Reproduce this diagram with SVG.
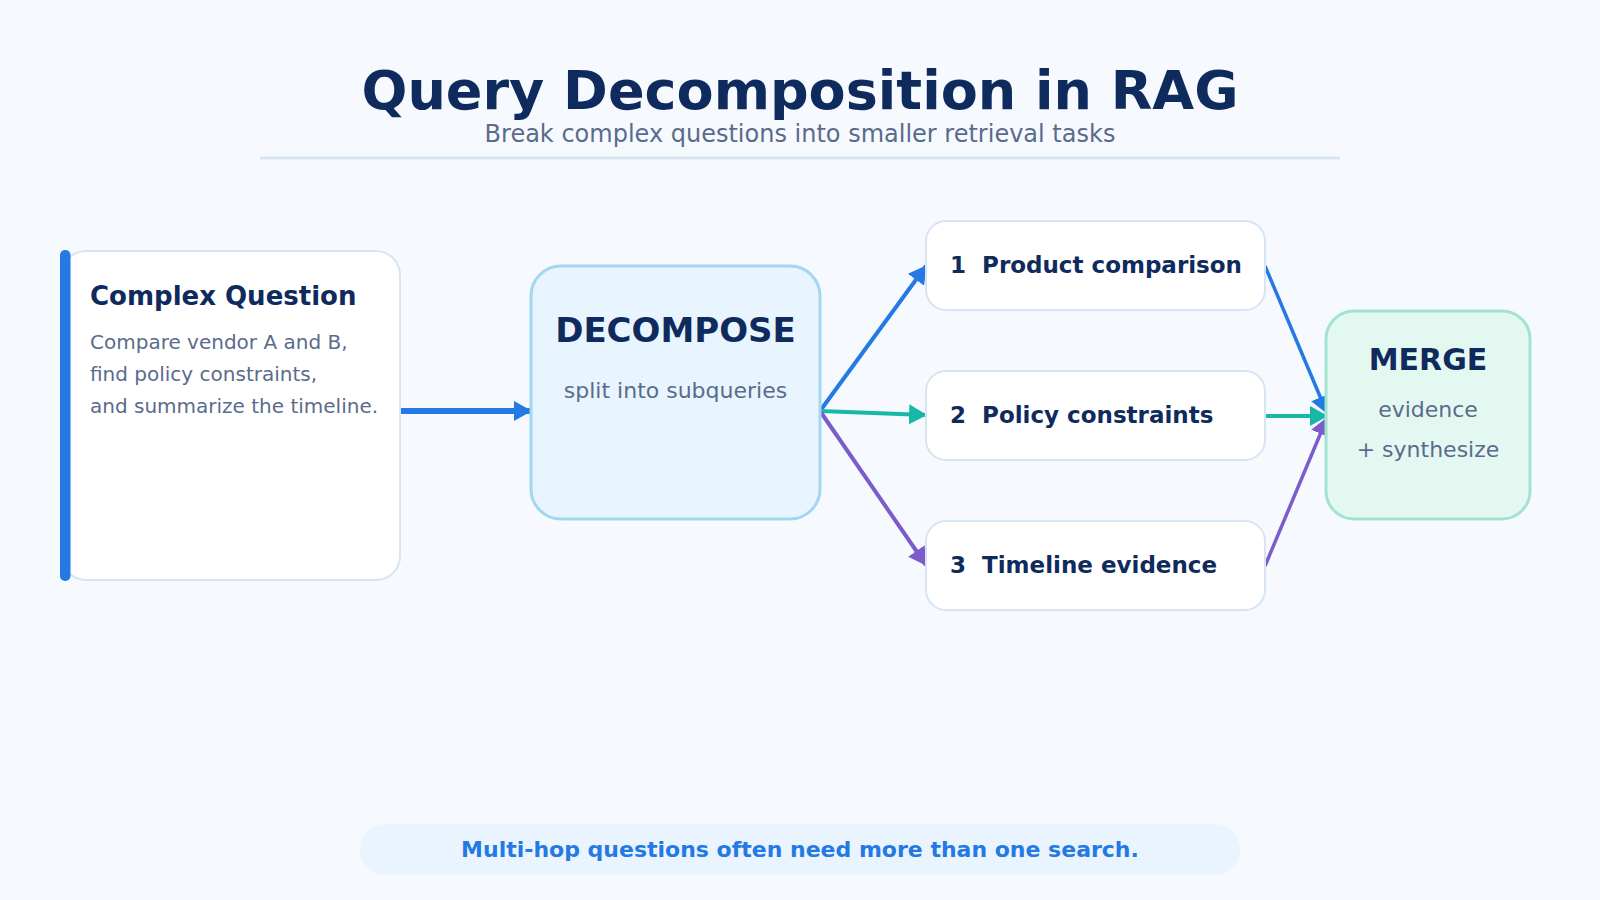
<svg xmlns="http://www.w3.org/2000/svg" width="1600" height="900" viewBox="0 0 1600 900">
  <defs>
    <style>
      text { font-family: "DejaVu Sans", "Liberation Sans", sans-serif; }
      .title { font-size: 54px; font-weight: bold; fill: #0F2A5C; }
      .subtitle { font-size: 24px; fill: #5A6B8C; }
      .h { font-weight: bold; fill: #0F2A5C; }
      .body { fill: #5A6B8C; }
      .sq { fill: #FFFFFF; stroke: #D6E4F3; stroke-width: 2; }
      .sqt { font-size: 23px; font-weight: bold; fill: #0F2A5C; }
      .conn { fill: none; }
    </style>
    <marker id="ah-blue" markerUnits="userSpaceOnUse" markerWidth="18" markerHeight="20" refX="17" refY="10" orient="auto">
      <path d="M0,0 L18,10 L0,20 z" fill="#2479E3"/>
    </marker>
    <marker id="ah-teal" markerUnits="userSpaceOnUse" markerWidth="18" markerHeight="20" refX="17" refY="10" orient="auto">
      <path d="M0,0 L18,10 L0,20 z" fill="#17B8A6"/>
    </marker>
    <marker id="ah-purple" markerUnits="userSpaceOnUse" markerWidth="18" markerHeight="20" refX="17" refY="10" orient="auto">
      <path d="M0,0 L18,10 L0,20 z" fill="#7C5CCB"/>
    </marker>
  </defs>

  <rect width="1600" height="900" fill="#F6FAFF"/>

  <g id="header">
    <text class="title" x="800" y="109" text-anchor="middle">Query Decomposition in RAG</text>
    <text class="subtitle" x="800" y="142" text-anchor="middle">Break complex questions into smaller retrieval tasks</text>
    <line x1="260" y1="158" x2="1340" y2="158" stroke="#D8E4F2" stroke-width="3"/>
  </g>

  <g id="connectors" class="conn">
    <line x1="400" y1="411" x2="531" y2="411" stroke="#2479E3" stroke-width="6" marker-end="url(#ah-blue)"/>
    <line x1="820" y1="411" x2="926" y2="266" stroke="#2479E3" stroke-width="4" marker-end="url(#ah-blue)"/>
    <line x1="820" y1="411" x2="926" y2="415" stroke="#17B8A6" stroke-width="4" marker-end="url(#ah-teal)"/>
    <line x1="820" y1="411" x2="926" y2="565" stroke="#7C5CCB" stroke-width="4" marker-end="url(#ah-purple)"/>
    <line x1="1265" y1="266" x2="1327" y2="413" stroke="#2479E3" stroke-width="3.5" marker-end="url(#ah-blue)"/>
    <line x1="1265" y1="416" x2="1327" y2="416" stroke="#17B8A6" stroke-width="4" marker-end="url(#ah-teal)"/>
    <line x1="1265" y1="566" x2="1327" y2="418" stroke="#7C5CCB" stroke-width="3.5" marker-end="url(#ah-purple)"/>
  </g>

  <g id="node-question">
    <rect x="62" y="251" width="338" height="329" rx="24" fill="#FFFFFF" stroke="#D6E4F3" stroke-width="2"/>
    <rect x="60" y="250" width="10.5" height="331" rx="5" fill="#2479E3"/>
    <text class="h" x="90" y="305" font-size="26">Complex Question</text>
    <text class="body" font-size="20">
      <tspan x="90" y="349">Compare vendor A and B,</tspan>
      <tspan x="90" y="381">find policy constraints,</tspan>
      <tspan x="90" y="413">and summarize the timeline.</tspan>
    </text>
  </g>

  <g id="node-decompose">
    <rect x="531" y="266" width="289" height="253" rx="30" fill="#E8F5FE" stroke="#A3D6F3" stroke-width="3"/>
    <text class="h" x="675.5" y="342" font-size="34" text-anchor="middle">DECOMPOSE</text>
    <text class="body" x="675.5" y="398" font-size="22" text-anchor="middle">split into subqueries</text>
  </g>

  <g id="node-sq1">
    <rect class="sq" x="926" y="221" width="339" height="89" rx="20"/>
    <text class="sqt" x="950" y="273" xml:space="preserve">1  Product comparison</text>
  </g>
  <g id="node-sq2">
    <rect class="sq" x="926" y="371" width="339" height="89" rx="20"/>
    <text class="sqt" x="950" y="423" xml:space="preserve">2  Policy constraints</text>
  </g>
  <g id="node-sq3">
    <rect class="sq" x="926" y="521" width="339" height="89" rx="20"/>
    <text class="sqt" x="950" y="573" xml:space="preserve">3  Timeline evidence</text>
  </g>

  <g id="node-merge">
    <rect x="1326" y="311" width="204" height="208" rx="28" fill="#E4F8F2" stroke="#A3E2D2" stroke-width="3"/>
    <text class="h" x="1428" y="370" font-size="30" text-anchor="middle">MERGE</text>
    <text class="body" x="1428" y="417" font-size="22" text-anchor="middle">evidence</text>
    <text class="body" x="1428" y="457" font-size="22" text-anchor="middle">+ synthesize</text>
  </g>

  <g id="footer">
    <rect x="360" y="824" width="880" height="51" rx="25.5" fill="#EAF4FE"/>
    <text x="800" y="857" font-size="22" font-weight="bold" fill="#2479E3" text-anchor="middle">Multi-hop questions often need more than one search.</text>
  </g>
</svg>
